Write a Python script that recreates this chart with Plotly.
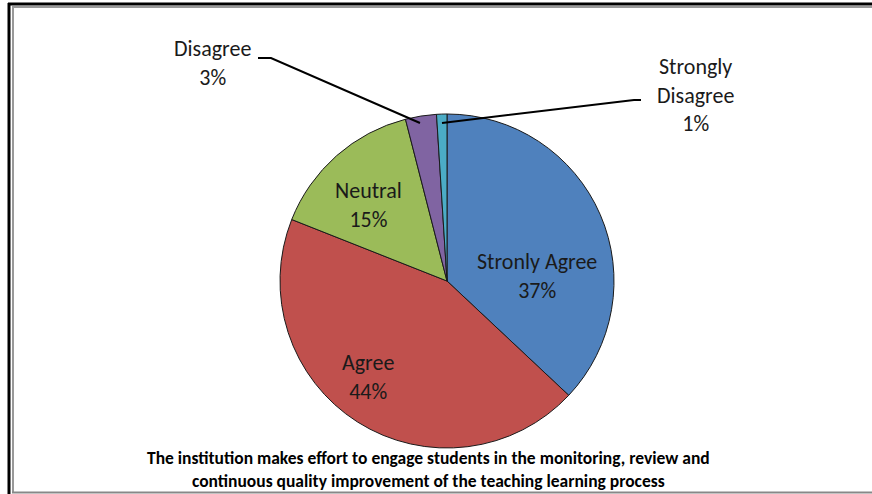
import plotly.graph_objects as go

categories = ["Stronly Agree", "Agree", "Neutral", "Disagree", "Strongly<br>Disagree"]
values = [37, 44, 15, 3, 1]
colors = ["#4F81BD", "#C0504D", "#9BBB59", "#8064A2", "#4BACC6"]
title_lines = ["The institution makes effort to engage students in the monitoring, review and",
               "continuous quality improvement of the teaching learning process"]

W, H = 872, 494
FONT = "Carlito, Calibri, Lato, sans-serif"

def px(x):
    return x / W

def py(y):
    return 1 - y / H

pct = [v / sum(values) * 100 for v in values]
label_text = [f"{c}<br>{round(p)}%" for c, p in zip(categories, pct)]

fig = go.Figure(go.Pie(
    labels=categories,
    values=values,
    sort=False,
    direction="clockwise",
    rotation=0,
    marker=dict(colors=colors, line=dict(color="#1a1a1a", width=1)),
    textinfo="none",
    domain=dict(x=[px(280), px(614)], y=[py(448), py(114)]),
    showlegend=False,
    hoverinfo="label+percent",
))

# label anchor positions (pixels) for each category, in order
label_pos = [(537, 276), (368, 377), (368, 205), (212, 63), (695, 95)]

annotations = []
for t, (x, y) in zip(label_text, label_pos):
    annotations.append(dict(x=px(x), y=py(y), xref="paper", yref="paper", showarrow=False,
                            text=t, align="center", xanchor="center", yanchor="middle",
                            font=dict(family=FONT, size=22, color="#1a1a1a")))

annotations.append(dict(x=px(428), y=py(469), xref="paper", yref="paper", showarrow=False,
                        text="<b>" + "<br>".join(title_lines) + "</b>", align="center",
                        xanchor="center", yanchor="middle",
                        font=dict(family=FONT, size=17.5, color="#000000")))

shapes = [
    # leader lines
    dict(type="path", xref="paper", yref="paper",
         path=f"M {px(258)} {py(58)} L {px(271)} {py(58)} L {px(420)} {py(123)}",
         line=dict(color="#000000", width=2)),
    dict(type="path", xref="paper", yref="paper",
         path=f"M {px(641)} {py(100)} L {px(634)} {py(100)} L {px(442)} {py(123)}",
         line=dict(color="#000000", width=2)),
    # frame
    dict(type="line", xref="paper", yref="paper", x0=px(8), x1=1, y0=py(4), y1=py(4),
         line=dict(color="#000000", width=3)),
    dict(type="line", xref="paper", yref="paper", x0=px(12), x1=1, y0=py(7), y1=py(7),
         line=dict(color="#999999", width=2)),
    dict(type="line", xref="paper", yref="paper", x0=px(9), x1=px(9), y0=py(3), y1=0,
         line=dict(color="#000000", width=3)),
    dict(type="line", xref="paper", yref="paper", x0=px(13), x1=px(13), y0=py(7), y1=py(493),
         line=dict(color="#999999", width=2)),
    dict(type="line", xref="paper", yref="paper", x0=px(12), x1=1, y0=py(492.5), y1=py(492.5),
         line=dict(color="#888888", width=2)),
]

fig.update_layout(
    width=W, height=H,
    margin=dict(l=0, r=0, t=0, b=0),
    paper_bgcolor="white", plot_bgcolor="white",
    annotations=annotations,
    shapes=shapes,
)

fig.write_html("out.html", config={"displayModeBar": False},
               post_script="document.body.style.margin='0';")
